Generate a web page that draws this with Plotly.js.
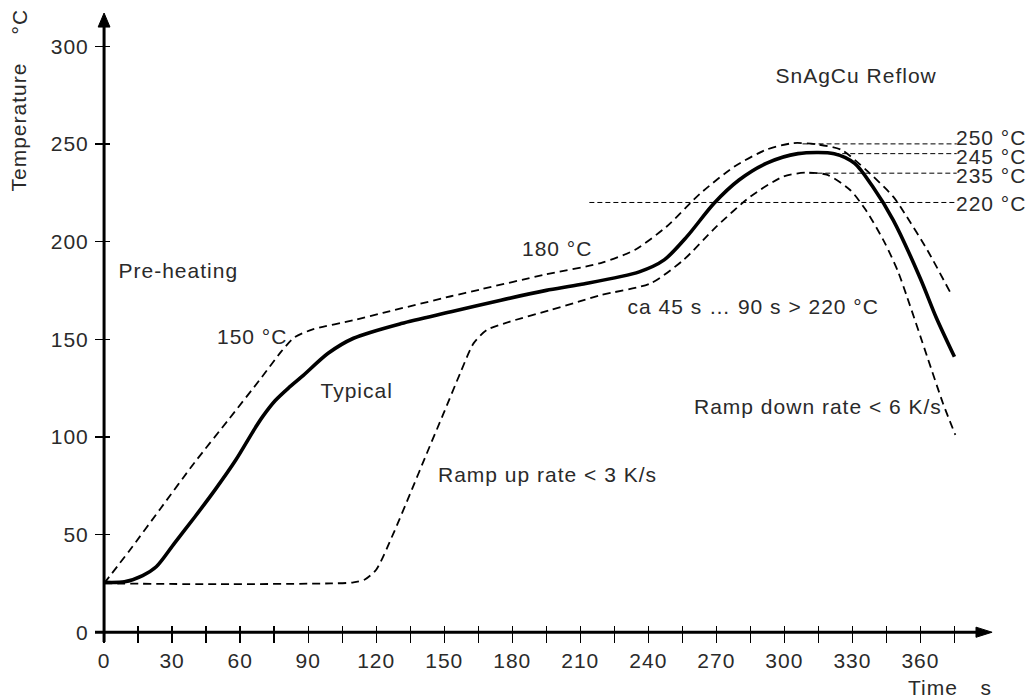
<!DOCTYPE html>
<html>
<head>
<meta charset="utf-8">
<script src="https://cdn.plot.ly/plotly-3.0.1.min.js"></script>
<style>
  html, body { margin: 0; padding: 0; background: #fff; }
  #chart { width: 1033px; height: 700px; }
  #chart svg text { letter-spacing: 1px; }
</style>
</head>
<body>
<div id="chart"></div>
<script>
// ---- data ----
const typicalTime = [0, 9, 17, 23, 31, 40, 49, 58, 66.6, 70, 75.4, 81.3, 87.2, 98.8, 110, 131, 153, 175, 195, 210, 236, 247, 257, 269, 280, 292, 306, 322, 331, 339, 348, 360, 367, 375];
const typicalTemp = [25.5, 25.8, 29, 33.5, 45.5, 59, 73, 88, 104.5, 110.5, 118.5, 125, 130.8, 142.8, 150.5, 158, 164, 170, 175, 178, 184.5, 190.6, 202.5, 219.6, 231.5, 240, 245, 245, 240, 228, 211, 181, 161, 141];

const upperTime = [0, 11, 25, 40, 55, 69.5, 78, 84, 92, 111, 123, 153, 166, 194, 219, 234, 248, 263, 278, 292, 304, 314, 325, 336, 348, 353, 363, 373];
const upperTemp = [25, 41.5, 63.5, 87, 109, 130.5, 143.5, 151, 155, 160, 163.5, 172, 175.5, 183, 189, 195.7, 207.6, 224.7, 238.4, 247, 250.4, 249.8, 247, 236.7, 223, 214.5, 195.7, 174.3];

const lowerTime = [0, 50, 100, 110, 115, 120, 127.6, 135, 142.3, 149.7, 157, 163, 168.8, 179, 197, 210, 219, 241, 255.5, 270, 285, 299.6, 310, 319, 329, 336, 344, 350, 354, 363, 370, 375.4];
const lowerTemp = [25, 24.6, 25, 25.5, 27, 32, 50.6, 71, 91.5, 112, 132.5, 148, 154.7, 159, 165, 169.5, 172.6, 178.6, 190.6, 207.6, 223, 233.3, 235.3, 234.1, 226.4, 216, 200, 185, 172, 141, 117, 101];

const refLevels = [250, 245, 235, 220];
const refStart = [308, 322, 311, 214];
const refEnd = [376, 376, 376, 376];
const refLabels = ['250 °C', '245 °C', '235 °C', '220 °C'];

const xTickVals = [0, 30, 60, 90, 120, 150, 180, 210, 240, 270, 300, 330, 360];
const xTickText = ['0', '30', '60', '90', '120', '150', '180', '210', '240', '270', '300', '330', '360'];
const xMinorVals = [15, 45, 75, 105, 135, 165, 195, 225, 255, 285, 315, 345, 375];
const yTickVals = [0, 50, 100, 150, 200, 250, 300];
const yTickText = ['0', '50', '100', '150', '200', '250', '300'];

// ---- styling ----
const FONT = 'Liberation Sans, Arial, Helvetica, sans-serif';
const TXT = '#2a2a2a';
const fs = 21;

const traces = [];
traces.push({x: upperTime, y: upperTemp, mode: 'lines', type: 'scatter',
  line: {color: '#000', width: 1.8, dash: '8px,5px', shape: 'spline', smoothing: 0.7}, hoverinfo: 'skip'});
traces.push({x: lowerTime, y: lowerTemp, mode: 'lines', type: 'scatter',
  line: {color: '#000', width: 1.8, dash: '8px,5px', shape: 'spline', smoothing: 0.7}, hoverinfo: 'skip'});
for (let i = 0; i < refLevels.length; i++) {
  traces.push({x: [refStart[i], refEnd[i]], y: [refLevels[i], refLevels[i]], mode: 'lines', type: 'scatter',
    line: {color: '#000', width: 1, dash: '5px,3px'}, hoverinfo: 'skip'});
}
traces.push({x: typicalTime, y: typicalTemp, mode: 'lines', type: 'scatter',
  line: {color: '#000', width: 3.6, shape: 'spline', smoothing: 0.8}, hoverinfo: 'skip'});

const tickFont = {family: FONT, size: fs, color: TXT};

const annotations = [];
const lblShift = [6, -3, -2, -1];
for (let i = 0; i < refLevels.length; i++) {
  annotations.push({x: 376.1, y: refLevels[i], xref: 'x', yref: 'y', text: refLabels[i], showarrow: false,
    xanchor: 'left', yanchor: 'middle', yshift: lblShift[i], font: tickFont});
}
const textNotes = [
  {text: 'Pre-heating', x: 7.8, y: 185.4, xanchor: 'left'},
  {text: '150 °C', x: 50.2, y: 151.3, xanchor: 'left'},
  {text: 'Typical', x: 96, y: 124, xanchor: 'left'},
  {text: '180 °C', x: 184.7, y: 196.7, xanchor: 'left'},
  {text: 'ca 45 s … 90 s > 220 °C', x: 235, y: 166.6, xanchor: 'left'},
  {text: 'Ramp up rate < 3 K/s', x: 150.8, y: 80.5, xanchor: 'left'},
  {text: 'Ramp down rate < 6 K/s', x: 365.5, y: 115.4, xanchor: 'right'},
  {text: 'SnAgCu Reflow', x: 298, y: 285.2, xanchor: 'left'}
];
textNotes.forEach(n => annotations.push({x: n.x, y: n.y, xref: 'x', yref: 'y', text: n.text, showarrow: false,
  xanchor: n.xanchor, yanchor: 'middle', font: tickFont}));
// axis titles
annotations.push({x: 354.5, y: -0.073, xref: 'x', yref: 'paper', text: 'Time', showarrow: false,
  xanchor: 'left', yanchor: 'middle', font: tickFont});
annotations.push({x: 385.8, y: -0.073, xref: 'x', yref: 'paper', text: 's', showarrow: false,
  xanchor: 'left', yanchor: 'middle', font: tickFont});
annotations.push({x: -0.0846, y: 0.8188, xref: 'paper', yref: 'paper', text: 'Temperature', showarrow: false,
  textangle: -90, xanchor: 'center', yanchor: 'middle', font: tickFont});
annotations.push({x: -0.0846, y: 0.9865, xref: 'paper', yref: 'paper', text: '°C', showarrow: false,
  textangle: -90, xanchor: 'center', yanchor: 'middle', font: tickFont});

const shapes = [
  // x axis line + arrow
  {type: 'line', xref: 'x', yref: 'y', x0: -4, x1: 386, y0: 0, y1: 0, line: {color: '#000', width: 3}},
  {type: 'path', xref: 'x', yref: 'y', path: 'M 384.5 -2.6 L 391.6 0 L 384.5 2.6 Z', fillcolor: '#000', line: {color: '#000', width: 1}},
  // y axis line + arrow
  {type: 'line', xref: 'x', yref: 'y', x0: 0, x1: 0, y0: -5, y1: 311, line: {color: '#000', width: 3}},
  {type: 'path', xref: 'x', yref: 'y', path: 'M -2.6 309.8 L 0 317 L 2.6 309.8 Z', fillcolor: '#000', line: {color: '#000', width: 1}}
];

const layout = {
  width: 1033, height: 700,
  margin: {l: 95, r: 40, t: 13, b: 58, pad: 0},
  paper_bgcolor: '#fff', plot_bgcolor: '#fff',
  showlegend: false,
  font: {family: FONT, size: fs, color: TXT},
  xaxis: {range: [-4, 392], showgrid: false, zeroline: false, showline: false,
    anchor: 'free', position: 0.027,
    tickvals: xTickVals, ticktext: xTickText, ticks: 'outside', ticklen: 17, tickwidth: 1.3, tickcolor: '#000',
    ticklabelstandoff: 0,
    minor: {tickvals: xMinorVals, ticks: 'outside', ticklen: 17, tickwidth: 1.3, tickcolor: '#000', showgrid: false},
    tickfont: tickFont, fixedrange: true},
  yaxis: {range: [-5, 317], showgrid: false, zeroline: false, showline: false,
    anchor: 'free', position: 0.0167,
    tickvals: yTickVals, ticktext: yTickText, ticks: 'outside', ticklen: 15, tickwidth: 1.3, tickcolor: '#000',
    ticklabelstandoff: 2,
    tickfont: tickFont, fixedrange: true},
  shapes: shapes,
  annotations: annotations
};

Plotly.newPlot('chart', traces, layout, {displayModeBar: false, staticPlot: true});
</script>
</body>
</html>
